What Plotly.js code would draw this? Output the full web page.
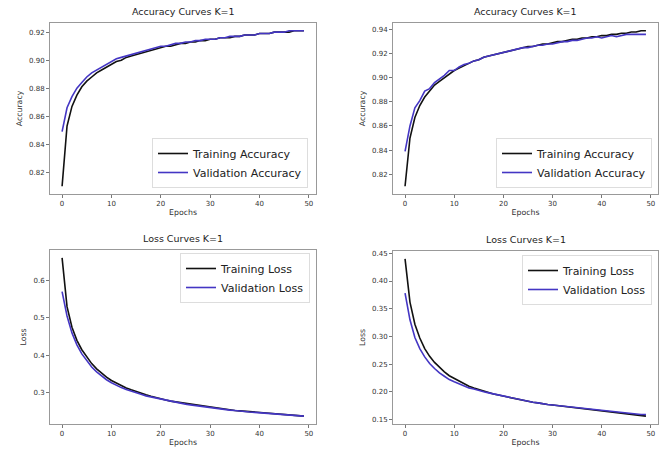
<!DOCTYPE html>
<html>
<head>
<meta charset="utf-8">
<script src="https://cdn.plot.ly/plotly-3.0.1.min.js"></script>
<style>html,body{margin:0;padding:0;background:#fff;}#chart{width:665px;height:449px;}</style>
</head>
<body>
<div id="chart"></div>
<script>
const epochs = Array.from({length: 50}, (_, i) => i);

const accTrain1 = [0.810,0.853,0.867,0.875,0.881,0.885,0.888,0.891,0.893,0.895,
  0.897,0.899,0.900,0.902,0.903,0.904,0.905,0.906,0.907,0.908,
  0.909,0.910,0.910,0.911,0.912,0.912,0.913,0.913,0.914,0.914,
  0.915,0.915,0.916,0.916,0.916,0.917,0.917,0.918,0.918,0.918,
  0.919,0.919,0.919,0.920,0.920,0.920,0.920,0.921,0.921,0.921];
const accVal1 = [0.849,0.866,0.874,0.880,0.884,0.888,0.891,0.893,0.895,0.897,
  0.899,0.901,0.902,0.903,0.904,0.905,0.906,0.907,0.908,0.909,
  0.910,0.910,0.911,0.912,0.912,0.913,0.913,0.914,0.914,0.915,
  0.915,0.915,0.916,0.916,0.917,0.917,0.917,0.918,0.918,0.918,
  0.919,0.919,0.919,0.920,0.920,0.920,0.921,0.921,0.921,0.921];

const accTrain2 = [0.810,0.850,0.867,0.877,0.884,0.889,0.894,0.897,0.900,0.903,
  0.906,0.908,0.910,0.912,0.914,0.915,0.917,0.918,0.919,0.920,
  0.921,0.922,0.923,0.924,0.925,0.926,0.926,0.927,0.928,0.928,
  0.929,0.930,0.930,0.931,0.932,0.932,0.933,0.933,0.934,0.934,
  0.935,0.935,0.936,0.936,0.937,0.937,0.938,0.938,0.939,0.939];
const accVal2 = [0.839,0.860,0.875,0.881,0.889,0.891,0.896,0.899,0.902,0.906,
  0.906,0.909,0.911,0.912,0.914,0.915,0.917,0.918,0.919,0.920,
  0.921,0.922,0.923,0.924,0.925,0.925,0.926,0.927,0.927,0.928,
  0.928,0.929,0.930,0.930,0.931,0.931,0.932,0.933,0.933,0.934,
  0.933,0.934,0.935,0.934,0.935,0.936,0.936,0.936,0.936,0.936];

const lossTrain1 = [0.660,0.530,0.475,0.440,0.415,0.395,0.378,0.364,0.352,0.342,
  0.333,0.326,0.319,0.313,0.308,0.303,0.299,0.295,0.291,0.287,
  0.284,0.281,0.278,0.276,0.273,0.271,0.269,0.267,0.265,0.263,
  0.261,0.259,0.258,0.256,0.255,0.253,0.252,0.251,0.249,0.248,
  0.247,0.246,0.245,0.244,0.243,0.242,0.241,0.240,0.239,0.238];
const lossVal1 = [0.570,0.505,0.460,0.428,0.404,0.385,0.369,0.356,0.345,0.335,
  0.327,0.320,0.314,0.309,0.304,0.300,0.296,0.292,0.289,0.286,
  0.283,0.280,0.277,0.275,0.273,0.270,0.268,0.266,0.264,0.262,
  0.260,0.259,0.257,0.256,0.254,0.253,0.251,0.250,0.249,0.248,
  0.247,0.246,0.245,0.244,0.243,0.242,0.241,0.240,0.239,0.238];

const lossTrain2 = [0.440,0.362,0.322,0.297,0.278,0.264,0.253,0.244,0.236,0.229,
  0.224,0.219,0.214,0.210,0.207,0.204,0.201,0.198,0.196,0.194,
  0.192,0.190,0.188,0.186,0.184,0.183,0.181,0.180,0.178,0.177,
  0.176,0.175,0.173,0.172,0.171,0.170,0.169,0.168,0.167,0.166,
  0.165,0.164,0.163,0.162,0.161,0.160,0.159,0.158,0.157,0.156];
const lossVal2 = [0.378,0.330,0.298,0.278,0.263,0.251,0.242,0.234,0.228,0.222,
  0.218,0.214,0.210,0.207,0.205,0.202,0.200,0.198,0.196,0.194,
  0.192,0.190,0.188,0.186,0.184,0.183,0.181,0.180,0.178,0.177,
  0.176,0.175,0.174,0.173,0.172,0.171,0.170,0.169,0.168,0.167,
  0.166,0.165,0.164,0.163,0.162,0.161,0.161,0.160,0.159,0.159];

const titles = ["Accuracy Curves K=1", "Accuracy Curves K=1", "Loss Curves K=1", "Loss Curves K=1"];
const seriesNames = [["Training Accuracy","Validation Accuracy"],["Training Accuracy","Validation Accuracy"],["Training Loss","Validation Loss"],["Training Loss","Validation Loss"]];
const yLabels = ["Accuracy","Accuracy","Loss","Loss"];
const xLabel = "Epochs";

const W = 665, H = 449;
const boxes = [ // left, right, top, bottom in px
  [50, 316, 23, 194],
  [393, 658, 23, 194],
  [50, 316, 250, 424],
  [393, 658, 251, 424]
];
const dticks = [0.02, 0.02, 0.1, 0.05];
const fmts = [".2f", ".2f", ".1f", ".2f"];
const dataSets = [[accTrain1, accVal1],[accTrain2, accVal2],[lossTrain1, lossVal1],[lossTrain2, lossVal2]];
const legendPos = [
  {x: 308/W, y: 1-188/H, xanchor: "right", yanchor: "bottom"},
  {x: 652/W, y: 1-188/H, xanchor: "right", yanchor: "bottom"},
  {x: 310/W, y: 1-253/H, xanchor: "right", yanchor: "top"},
  {x: 652/W, y: 1-255/H, xanchor: "right", yanchor: "top"}
];

const FONT = "DejaVu Sans, sans-serif";
const valColor = "#4436c4";
const traces = [];
const layout = {
  width: W, height: H,
  margin: {l: 0, r: 0, t: 0, b: 0},
  paper_bgcolor: "#fff", plot_bgcolor: "#fff",
  showlegend: true,
  font: {family: FONT, color: "#333"},
  annotations: []
};

for (let k = 0; k < 4; k++) {
  const suffix = k === 0 ? "" : String(k + 1);
  const [l, r, t, b] = boxes[k];
  const [tr, va] = dataSets[k];
  const all = tr.concat(va);
  const mn = Math.min(...all), mx = Math.max(...all);
  const pad = (mx - mn) * 0.05;
  const legName = "legend" + suffix;
  traces.push({x: epochs, y: tr, type: "scatter", mode: "lines", name: seriesNames[k][0],
    line: {color: "#111", width: 1.6}, xaxis: "x" + suffix, yaxis: "y" + suffix, legend: legName});
  traces.push({x: epochs, y: va, type: "scatter", mode: "lines", name: seriesNames[k][1],
    line: {color: valColor, width: 1.6}, xaxis: "x" + suffix, yaxis: "y" + suffix, legend: legName});
  const axCommon = {showline: true, mirror: true, linecolor: "#999", linewidth: 1,
    showgrid: false, zeroline: false, ticks: "outside", ticklen: 3, tickcolor: "#777",
    tickfont: {family: FONT, size: 7, color: "#333"}};
  layout["xaxis" + suffix] = Object.assign({}, axCommon, {
    domain: [l / W, r / W], anchor: "y" + suffix, range: [-2.45, 51.45], dtick: 10, tick0: 0,
    title: {text: xLabel, font: {family: FONT, size: 7.8, color: "#333"}, standoff: 2}
  });
  layout["yaxis" + suffix] = Object.assign({}, axCommon, {
    domain: [1 - b / H, 1 - t / H], anchor: "x" + suffix, range: [mn - pad, mx + pad],
    dtick: dticks[k], tickformat: fmts[k],
    title: {text: yLabels[k], font: {family: FONT, size: 7.8, color: "#333"}, standoff: 5}
  });
  layout[legName] = Object.assign({}, legendPos[k], {
    bgcolor: "rgba(255,255,255,0.8)", bordercolor: "#ddd", borderwidth: 1,
    font: {family: FONT, size: 11, color: "#222"}, tracegroupgap: 0, itemwidth: 30
  });
  layout.annotations.push({text: titles[k], xref: "paper", yref: "paper",
    x: (l + r) / 2 / W, y: 1 - (t - 4) / H, xanchor: "center", yanchor: "bottom",
    showarrow: false, font: {family: FONT, size: 9.5, color: "#222"}});
}

Plotly.newPlot("chart", traces, layout, {displayModeBar: false, staticPlot: true});
</script>
</body>
</html>
